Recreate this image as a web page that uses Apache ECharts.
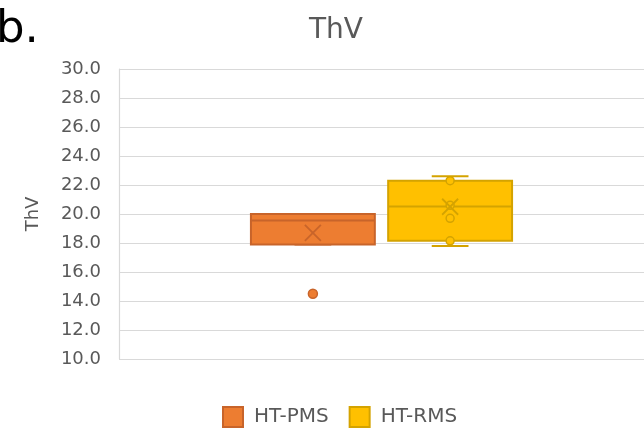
<!DOCTYPE html>
<html>
<head>
<meta charset="utf-8">
<script src="https://cdn.jsdelivr.net/npm/echarts@6/dist/echarts.min.js"></script>
<style>
  html, body { margin: 0; padding: 0; background: #fff; }
  #chart { width: 644px; height: 435px; }
</style>
</head>
<body>
<div id="chart"></div>
<script>
// ThV box plot, two groups side by side in one category
const categories = ['']
const seriesNames = ['HT-PMS', 'HT-RMS']
// min, Q1, median, Q3, max
const pmsStats = [17.9, 17.9, 19.55, 20.0, 20.0]
const rmsStats = [17.8, 18.15, 20.52, 22.3, 22.6]
const pmsMean = 18.7
const rmsMean = 20.5
const pmsOutliers = [14.5]
const rmsOutliers = []
const pmsInnerPoints = []
const rmsInnerPoints = [22.3, 20.6, 19.7, 18.15]
const yMin = 10
const yMax = 30
const yStep = 2

const FONT = 'DejaVu Sans'
const TEXT_COLOR = '#595959'
const BOX_W = 0.236   // box width as a share of the band
const CAP_W = 0.07    // whisker cap width as a share of the band
const OFFSET = 0.1307 // box centre offset from band centre

function makeRender(offsetFrac, fill, stroke, innerPoints, outliers) {
  return function (params, api) {
    const band = api.size([1, 0])[0]
    const cat = api.value(0)
    const x0 = api.coord([cat, yMin])[0] + offsetFrac * band
    const y = i => api.coord([cat, api.value(i)])[1]
    const yv = v => api.coord([cat, v])[1]
    const half = band * BOX_W / 2
    const capHalf = band * CAP_W / 2
    const lineStyle = { stroke: stroke, lineWidth: 2, fill: null }
    const children = [
      { type: 'line', shape: { x1: x0, y1: y(4), x2: x0, y2: y(5) }, style: lineStyle },
      { type: 'line', shape: { x1: x0, y1: y(2), x2: x0, y2: y(1) }, style: lineStyle },
      { type: 'line', shape: { x1: x0 - capHalf, y1: y(5), x2: x0 + capHalf, y2: y(5) }, style: lineStyle },
      { type: 'line', shape: { x1: x0 - capHalf, y1: y(1), x2: x0 + capHalf, y2: y(1) }, style: lineStyle },
      {
        type: 'rect',
        shape: { x: x0 - half, y: y(4), width: half * 2, height: y(2) - y(4) },
        style: { fill: fill, stroke: stroke, lineWidth: 2 }
      },
      { type: 'line', shape: { x1: x0 - half, y1: y(3), x2: x0 + half, y2: y(3) }, style: lineStyle }
    ]
    innerPoints.forEach(v => {
      children.push({
        type: 'circle',
        shape: { cx: x0, cy: yv(v), r: 4 },
        style: { fill: fill, stroke: stroke, lineWidth: 1.5 }
      })
    })
    // mean marker (X)
    const ym = y(6)
    const s = 8
    children.push(
      { type: 'line', shape: { x1: x0 - s, y1: ym - s, x2: x0 + s, y2: ym + s }, style: { stroke: stroke, lineWidth: 1.8 } },
      { type: 'line', shape: { x1: x0 - s, y1: ym + s, x2: x0 + s, y2: ym - s }, style: { stroke: stroke, lineWidth: 1.8 } }
    )
    outliers.forEach(v => {
      children.push({
        type: 'circle',
        shape: { cx: x0, cy: yv(v), r: 4.5 },
        style: { fill: fill, stroke: stroke, lineWidth: 1.5 }
      })
    })
    return { type: 'group', children: children }
  }
}

const colors = [
  { fill: '#ED7D31', stroke: '#C8642A' },
  { fill: '#FFC000', stroke: '#D4A300' }
]

const chart = echarts.init(document.getElementById('chart'))
chart.setOption({
  animation: false,
  textStyle: { fontFamily: FONT },
  title: {
    text: 'ThV',
    left: 336,
    top: 17,
    textAlign: 'center',
    padding: 0,
    textStyle: { fontSize: 28, fontWeight: 'normal', color: TEXT_COLOR, fontFamily: FONT }
  },
  graphic: [{
    type: 'text',
    left: -4,
    top: 8,
    style: { text: 'b.', font: '45px "DejaVu Sans"', fill: '#000' }
  }],
  legend: {
    left: 222,
    top: 406,
    padding: 0,
    itemWidth: 20,
    itemHeight: 20,
    itemGap: 20,
    icon: 'rect',
    data: seriesNames.map((n, i) => ({
      name: n,
      itemStyle: { color: colors[i].fill, borderColor: colors[i].stroke, borderWidth: 2 }
    })),
    textStyle: { fontSize: 20, color: TEXT_COLOR, fontFamily: FONT, padding: [0, 0, 0, 6] }
  },
  grid: { left: 119, right: -3, top: 69, bottom: 76 },
  xAxis: {
    type: 'category',
    data: categories,
    axisLine: { show: false },
    axisTick: { show: false },
    axisLabel: { show: false },
    splitLine: { show: false }
  },
  yAxis: {
    type: 'value',
    min: yMin,
    max: yMax,
    interval: yStep,
    name: 'ThV',
    nameLocation: 'middle',
    nameRotate: 90,
    nameGap: 77,
    nameTextStyle: { fontSize: 18, color: TEXT_COLOR, fontFamily: FONT },
    axisLine: { show: true, lineStyle: { color: '#D9D9D9', width: 1.2 } },
    axisTick: { show: false },
    axisLabel: {
      fontSize: 18,
      color: TEXT_COLOR,
      margin: 18,
      fontFamily: FONT,
      formatter: v => v.toFixed(1)
    },
    splitLine: { lineStyle: { color: '#D9D9D9', width: 1.2 } }
  },
  series: [
    {
      name: seriesNames[0],
      type: 'custom',
      itemStyle: { color: colors[0].fill, borderColor: colors[0].stroke },
      encode: { x: 0, y: [1, 2, 3, 4, 5, 6] },
      data: [[0].concat(pmsStats, [pmsMean])],
      renderItem: makeRender(-OFFSET, colors[0].fill, colors[0].stroke, pmsInnerPoints, pmsOutliers)
    },
    {
      name: seriesNames[1],
      type: 'custom',
      itemStyle: { color: colors[1].fill, borderColor: colors[1].stroke },
      encode: { x: 0, y: [1, 2, 3, 4, 5, 6] },
      data: [[0].concat(rmsStats, [rmsMean])],
      renderItem: makeRender(OFFSET, colors[1].fill, colors[1].stroke, rmsInnerPoints, rmsOutliers)
    }
  ]
})
</script>
</body>
</html>
